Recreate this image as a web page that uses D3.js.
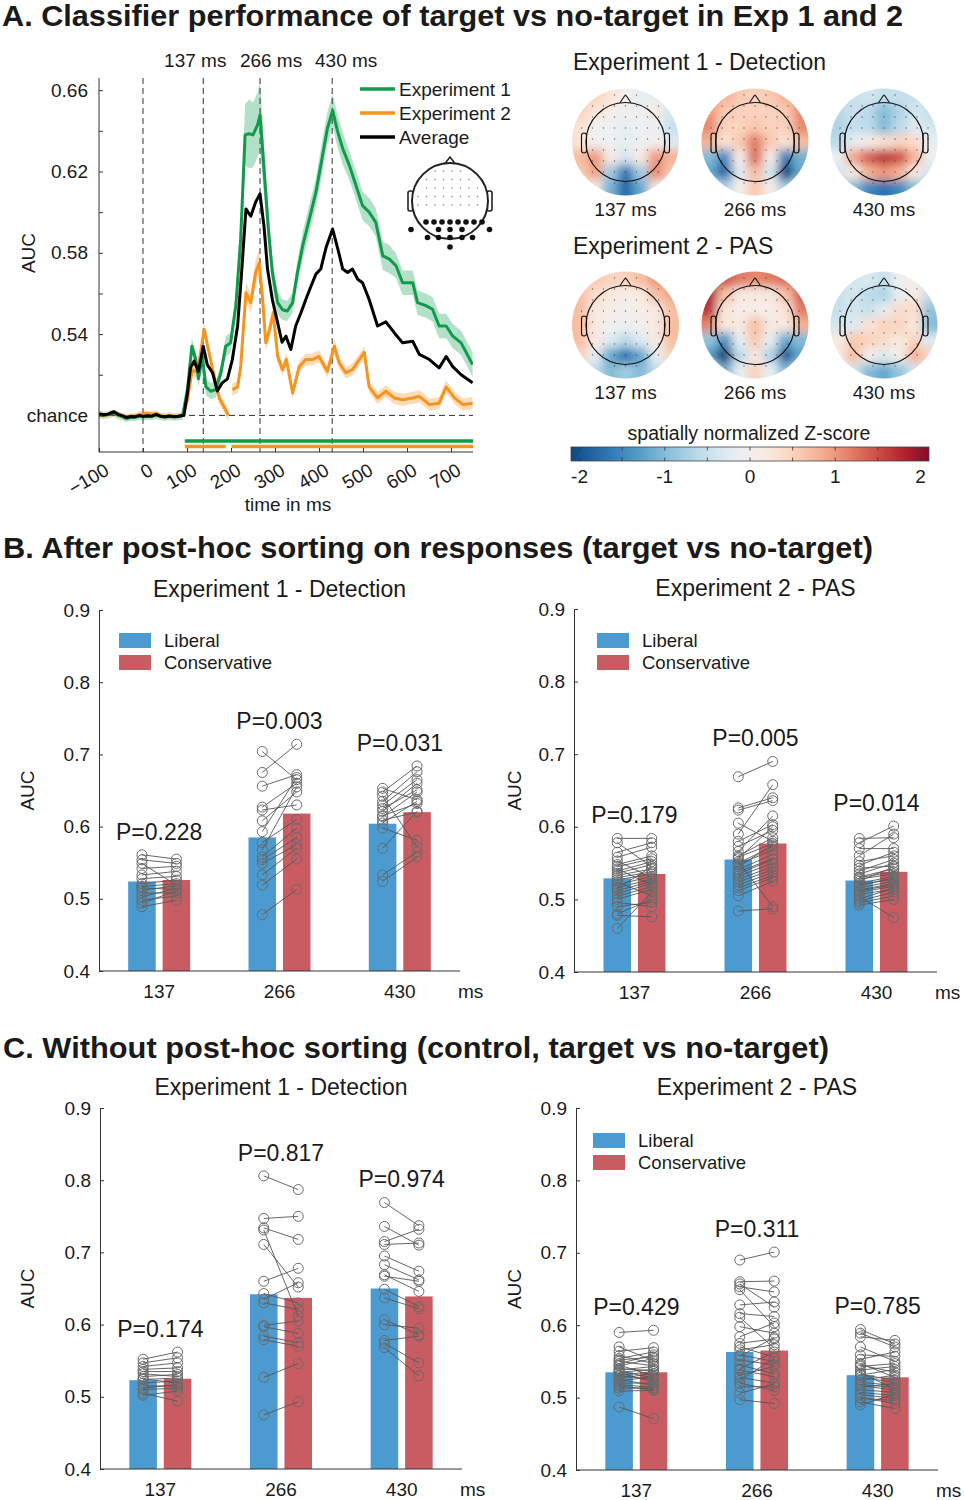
<!DOCTYPE html>
<html>
<head>
<meta charset="utf-8">
<script src="https://cdn.jsdelivr.net/npm/d3@7"></script>
<style>
  body { margin: 0; background: #fff; }
  svg text { font-family: "Liberation Sans", Arial, Helvetica, sans-serif; fill: #1a1a1a; }
</style>
</head>
<body>
<svg id="fig" width="964" height="1500"></svg>
<script>
// ---------- data: panel A time courses ----------
var baseTime = [-100,-90,-80,-66,-56,-46,-38,-28,-18,-8,0,10,20,30,40,50,60,70,80,90];

var exp1Time = baseTime.concat([101,111,120,126,135,143,154,165,177,188,199,211,222,232,241,250,260,266,275,285,
  294,306,317,328,340,351,363,378,393,404,419,431,442,454,469,484,499,514,529,545,
  560,575,590,613,624,643,658,673,689,704,723,749]);
var exp1Auc = [0.5005,0.5000,0.5003,0.5012,0.5000,0.4993,0.4985,0.4990,0.4990,0.4997,0.4993,0.4996,0.4995,0.5002,0.4994,0.4991,0.4995,0.4992,0.4994,0.4998,
  0.5127,0.534,0.5275,0.518,0.529,0.514,0.5119,0.5127,0.521,0.534,0.5357,0.554,0.5867,0.638,0.6386,0.638,0.6427,0.6477,0.6213,0.5917,
  0.5703,0.5555,0.552,0.5514,0.5555,0.5703,0.5835,0.5966,0.6098,0.623,0.6411,0.650,0.640,0.6312,0.623,0.6131,0.6032,0.600,0.595,0.5785,
  0.5769,0.5736,0.5653,0.5653,0.5555,0.554,0.5522,0.544,0.544,0.539,0.5357,0.525];
var exp1Sem = [0.0018,0.0018,0.0018,0.0018,0.0018,0.0018,0.0018,0.0018,0.0018,0.0018,0.0018,0.0018,0.0018,0.0018,0.0018,0.0018,0.0018,0.0018,0.0018,0.0018,
  0.004,0.004,0.004,0.004,0.004,0.004,0.004,0.004,0.004,0.005,0.005,0.006,0.010,0.015,0.017,0.016,0.016,0.017,0.013,0.010,
  0.007,0.006,0.005,0.005,0.005,0.006,0.007,0.007,0.007,0.008,0.008,0.008,0.008,0.008,0.007,0.007,0.007,0.007,0.007,0.007,
  0.007,0.006,0.006,0.006,0.006,0.006,0.006,0.006,0.006,0.006,0.006,0.006];

var exp2Time = baseTime.concat([101,112,124,139,150,162,173,184,194,197,203,215,222,234,245,256,264,272,279,288,
  296,306,317,326,340,355,370,385,400,419,435,446,461,476,492,503,514,533,552,571,
  590,613,628,651,673,689,708,727,749]);
var exp2Auc = [0.5003,0.4998,0.5004,0.5010,0.5002,0.4996,0.4992,0.4996,0.4997,0.5004,0.5008,0.5010,0.5006,0.5010,0.4998,0.4995,0.4999,0.4996,0.4997,0.5001,
  0.5077,0.5225,0.521,0.5423,0.531,0.519,0.5086,0.5044,0.500,null,0.5127,0.514,0.524,0.5604,0.5555,0.5703,0.575,0.557,0.5357,0.5423,
  0.5505,0.529,0.5225,0.5275,0.511,0.524,0.5275,0.5275,0.529,0.5217,0.534,0.5258,0.521,0.5225,0.5275,0.531,0.514,0.5086,0.5119,0.5086,
  0.5077,0.5086,0.5094,0.5053,0.506,0.514,0.5086,0.5053,0.506];
var exp2Sem = [0.0015,0.0015,0.0015,0.0015,0.0015,0.0015,0.0015,0.0015,0.0015,0.0015,0.0015,0.0015,0.0015,0.0015,0.0015,0.0015,0.0015,0.0015,0.0015,0.0015,
  0.003,0.003,0.003,0.003,0.003,0.003,0.003,0.003,0.003,0.003,0.003,0.003,0.004,0.005,0.005,0.006,0.007,0.005,0.004,0.004,
  0.003,0.003,0.003,0.003,0.003,0.003,0.003,0.003,0.003,0.003,0.004,0.003,0.003,0.003,0.003,0.003,0.003,0.003,0.003,0.003,
  0.003,0.003,0.003,0.003,0.003,0.003,0.003,0.003,0.003];

var avgTime = baseTime.concat([93,101,108,116,126,137,146,158,169,180,192,203,215,224,234,245,256,266,275,283,
  294,306,316,325,336,347,359,370,382,393,404,416,431,442,454,465,476,488,499,514,
  533,552,571,590,613,628,651,673,689,704,723,749]);
var avgAuc = [0.5008,0.5003,0.5006,0.5018,0.5005,0.4998,0.4990,0.4995,0.4993,0.5000,0.4995,0.4998,0.4996,0.5005,0.4996,0.4993,0.4997,0.4994,0.4996,0.5000,
  0.500,0.511,0.5234,0.5267,0.5217,0.534,0.525,0.521,0.512,0.516,0.518,0.5275,0.544,0.570,0.6016,0.598,0.605,0.609,0.593,0.572,
  0.557,0.5456,0.536,0.539,0.5324,0.544,0.5505,0.557,0.5637,0.5695,0.572,0.5826,0.5917,0.5826,0.572,0.5703,0.572,0.567,0.5653,0.557,
  0.544,0.546,0.5407,0.5357,0.5365,0.530,0.5275,0.5234,0.529,0.524,0.520,0.516];

// significant clusters (ms)
var exp1Sig = [[95, 750]];
var exp2Sig = [[95, 188], [201, 750]];
var markerTimes = [137, 266, 430];
var xTicksA = [-100, 0, 100, 200, 300, 400, 500, 600, 700];

// ---------- data: topographies (7x7 grid, rows front→back, spatially normalized z) ----------
var topoE1_137 = [
  [0.4,0.5,0.3,0.0,-0.2,-0.2,-0.2],
  [0.5,0.3,0.1,0.0,-0.1,0.2,-0.4],
  [0.3,0.0,-0.1,-0.2,-0.1,-0.1,-0.5],
  [0.3,0.0,-0.1,-0.2,-0.1,0.0,-0.3],
  [0.7,1.0,0.2,-0.4,0.2,1.0,0.8],
  [0.6,0.9,-0.8,-1.7,-0.8,1.1,0.6],
  [0.3,0.1,-1.1,-1.8,-1.2,0.2,0.2]];
var topoE1_266 = [
  [0.8,0.8,0.6,0.5,0.6,0.8,0.8],
  [1.0,0.6,0.5,0.5,0.5,0.6,1.1],
  [1.1,0.5,0.5,0.6,0.5,0.5,1.1],
  [0.8,0.3,0.6,1.2,0.6,0.3,0.7],
  [-1.0,-1.5,0.1,1.3,0.1,-1.6,-1.1],
  [-1.2,-1.8,-0.3,0.7,-0.4,-2.1,-1.2],
  [-0.3,-0.7,0.1,0.6,0.1,-0.8,-0.3]];
var topoE1_430 = [
  [-0.5,-0.5,-0.4,-0.5,-0.5,-0.5,-0.5],
  [-0.6,-0.5,-0.6,-1.0,-0.7,-0.4,-0.5],
  [-0.7,-0.5,-0.6,-1.0,-0.6,-0.3,-0.4],
  [-0.6,-0.2,0.1,0.3,0.5,0.4,-0.2],
  [-0.1,0.9,1.4,1.7,1.5,0.8,-0.1],
  [-0.4,0.2,0.8,1.0,0.8,0.2,-0.4],
  [-0.8,-1.0,-1.5,-1.7,-1.5,-1.0,-0.8]];
var topoE2_137 = [
  [0.6,0.6,0.5,0.5,0.7,1.0,0.9],
  [0.7,0.4,0.2,0.1,0.2,0.7,0.9],
  [0.7,0.2,0.1,0.0,0.1,0.2,0.7],
  [0.7,0.2,0.0,-0.1,0.0,0.2,0.7],
  [0.7,0.2,-0.3,-0.6,-0.3,0.2,0.7],
  [0.5,-0.2,-1.2,-1.7,-1.2,-0.2,0.5],
  [0.2,-0.6,-1.0,-0.8,-1.0,-0.6,0.2]];
var topoE2_266 = [
  [1.7,1.5,1.2,1.1,1.2,1.3,1.3],
  [1.9,0.7,0.2,0.2,0.2,0.7,1.4],
  [1.7,0.3,0.1,0.1,0.1,0.3,1.2],
  [1.1,0.2,0.2,0.7,0.2,0.2,0.8],
  [-0.9,-1.4,-0.2,0.6,-0.2,-1.2,-1.0],
  [-1.3,-2.2,-0.6,0.2,-0.7,-1.9,-1.2],
  [-0.4,-1.1,-0.2,0.5,-0.2,-1.0,-0.4]];
var topoE2_430 = [
  [-0.4,-0.4,-0.3,-0.5,-0.1,0.1,-0.3],
  [-0.5,-0.4,-0.6,-0.7,-0.2,0.2,-0.5],
  [-0.5,-0.4,-0.5,-0.2,0.4,0.4,-0.9],
  [-0.4,-0.3,0.3,0.5,0.5,0.2,-1.0],
  [0.2,0.6,0.5,0.4,0.2,0.5,-0.3],
  [0.2,0.7,0.1,-0.3,0.1,0.8,0.5],
  [-0.2,-0.4,-1.0,-1.2,-0.9,-0.4,-0.2]];
var colorbarTicks = [-2, -1, 0, 1, 2];

// ---------- data: bar panels ----------
var timeLabels = ["137", "266", "430"];

// B: after post-hoc sorting
var sortedExp1Lib = [
  [0.561,0.554,0.549,0.542,0.533,0.528,0.521,0.517,0.515,0.512,0.508,0.503,0.498,0.494,0.489],
  [0.704,0.675,0.656,0.627,0.623,0.608,0.593,0.578,0.568,0.558,0.554,0.549,0.533,0.519,0.478],
  [0.653,0.648,0.642,0.635,0.630,0.625,0.621,0.615,0.614,0.609,0.605,0.598,0.570,0.533,0.524]];
var sortedExp1Con = [
  [0.555,0.549,0.519,0.545,0.538,0.531,0.526,0.521,0.513,0.518,0.508,0.514,0.504,0.511,0.498],
  [0.665,0.714,0.672,0.660,0.630,0.648,0.668,0.610,0.655,0.598,0.585,0.575,0.570,0.555,0.513],
  [0.637,0.684,0.572,0.676,0.665,0.651,0.660,0.632,0.648,0.620,0.635,0.581,0.621,0.565,0.558]];
var sortedExp1LibMean = [0.524, 0.585, 0.604];
var sortedExp1ConMean = [0.526, 0.618, 0.620];
var sortedExp1P = ["P=0.228", "P=0.003", "P=0.031"];

var sortedExp2Lib = [
  [0.584,0.578,0.565,0.558,0.553,0.548,0.545,0.542,0.539,0.536,0.533,0.530,0.527,0.524,0.520,0.516,0.515,0.512,0.508,0.504,0.500,0.496,0.490,0.480,0.478,0.460],
  [0.669,0.626,0.623,0.605,0.590,0.580,0.573,0.566,0.560,0.558,0.556,0.552,0.550,0.548,0.545,0.541,0.538,0.535,0.532,0.528,0.524,0.520,0.516,0.512,0.505,0.484],
  [0.584,0.578,0.570,0.560,0.552,0.547,0.543,0.539,0.535,0.531,0.530,0.528,0.525,0.522,0.520,0.519,0.516,0.513,0.512,0.510,0.507,0.504,0.501,0.498,0.495,0.492]];
var sortedExp2Con = [
  [0.584,0.545,0.578,0.572,0.530,0.560,0.556,0.520,0.552,0.548,0.542,0.538,0.535,0.505,0.532,0.528,0.545,0.525,0.522,0.518,0.514,0.490,0.496,0.500,0.476,0.510],
  [0.690,0.640,0.636,0.580,0.658,0.603,0.595,0.615,0.585,0.577,0.600,0.490,0.573,0.568,0.575,0.562,0.556,0.555,0.550,0.545,0.541,0.537,0.533,0.530,0.525,0.487],
  [0.585,0.601,0.570,0.590,0.560,0.565,0.546,0.555,0.550,0.542,0.538,0.535,0.545,0.532,0.528,0.530,0.525,0.522,0.520,0.518,0.514,0.475,0.515,0.510,0.505,0.500]];
var sortedExp2LibMean = [0.529, 0.555, 0.526];
var sortedExp2ConMean = [0.535, 0.577, 0.538];
var sortedExp2P = ["P=0.179", "P=0.005", "P=0.014"];

// C: without post-hoc sorting
var controlExp1Lib = [
  [0.552,0.547,0.542,0.538,0.535,0.532,0.528,0.525,0.524,0.519,0.515,0.512,0.510,0.505,0.502],
  [0.806,0.747,0.734,0.731,0.711,0.660,0.643,0.635,0.630,0.599,0.597,0.584,0.579,0.527,0.475],
  [0.769,0.736,0.715,0.711,0.695,0.683,0.669,0.667,0.649,0.637,0.607,0.600,0.578,0.574,0.568]];
var controlExp1Con = [
  [0.562,0.554,0.547,0.540,0.535,0.528,0.531,0.519,0.526,0.522,0.515,0.517,0.512,0.494,0.508],
  [0.787,0.750,0.718,0.612,0.652,0.678,0.630,0.658,0.621,0.605,0.588,0.575,0.570,0.546,0.493],
  [0.737,0.710,0.732,0.713,0.674,0.662,0.646,0.660,0.625,0.622,0.586,0.595,0.584,0.547,0.529]];
var controlExp1LibMean = [0.523, 0.642, 0.650];
var controlExp1ConMean = [0.525, 0.637, 0.639];
var controlExp1P = ["P=0.174", "P=0.817", "P=0.974"];

var controlExp2Lib = [
  [0.590,0.570,0.564,0.558,0.554,0.552,0.550,0.547,0.545,0.544,0.540,0.538,0.537,0.535,0.534,0.531,0.530,0.527,0.525,0.523,0.520,0.518,0.516,0.513,0.509,0.487],
  [0.690,0.660,0.657,0.653,0.649,0.628,0.616,0.611,0.598,0.584,0.575,0.570,0.566,0.559,0.557,0.552,0.545,0.540,0.538,0.531,0.528,0.524,0.520,0.515,0.506,0.497],
  [0.594,0.589,0.584,0.570,0.559,0.553,0.547,0.545,0.543,0.538,0.534,0.532,0.531,0.528,0.524,0.521,0.518,0.517,0.514,0.511,0.507,0.504,0.500,0.499,0.494,0.490]];
var controlExp2Con = [
  [0.593,0.551,0.569,0.547,0.563,0.556,0.544,0.559,0.530,0.554,0.537,0.543,0.527,0.539,0.522,0.536,0.525,0.533,0.517,0.529,0.520,0.514,0.511,0.513,0.510,0.471],
  [0.701,0.661,0.625,0.646,0.598,0.632,0.612,0.568,0.589,0.603,0.581,0.556,0.573,0.550,0.583,0.545,0.533,0.563,0.529,0.543,0.520,0.554,0.510,0.515,0.519,0.492],
  [0.574,0.570,0.579,0.550,0.557,0.563,0.528,0.535,0.547,0.543,0.512,0.524,0.539,0.521,0.531,0.517,0.514,0.510,0.520,0.507,0.503,0.499,0.492,0.496,0.485,0.505]];
var controlExp2LibMean = [0.535, 0.563, 0.531];
var controlExp2ConMean = [0.535, 0.565, 0.528];
var controlExp2P = ["P=0.429", "P=0.311", "P=0.785"];

var yTicksBar = [0.4, 0.5, 0.6, 0.7, 0.8, 0.9];

// ---------- colours ----------
var green = "#129a4c", greenBand = "#a6dcbd";
var orange = "#f7941d", orangeBand = "#fbd5ab";
var libColor = "#4b9bd1", conColor = "#c95c62";

var svg = d3.select("#fig");
var defs = svg.append("defs");
defs.append("filter").attr("id", "topoBlur")
  .append("feGaussianBlur").attr("stdDeviation", 5);

// ---------- section headers ----------
svg.append("text").attr("x", 2).attr("y", 26).attr("font-size", 29).attr("font-weight", "bold")
  .attr("textLength", 901).attr("lengthAdjust", "spacingAndGlyphs")
  .text("A. Classifier performance of target vs no-target in Exp 1 and 2");
svg.append("text").attr("x", 3).attr("y", 558).attr("font-size", 29).attr("font-weight", "bold")
  .attr("textLength", 870).attr("lengthAdjust", "spacingAndGlyphs")
  .text("B. After post-hoc sorting on responses (target vs no-target)");
svg.append("text").attr("x", 3).attr("y", 1058).attr("font-size", 29).attr("font-weight", "bold")
  .attr("textLength", 826).attr("lengthAdjust", "spacingAndGlyphs")
  .text("C. Without post-hoc sorting (control, target vs no-target)");

// ---------- panel A: time course ----------
var ax = d3.scaleLinear().domain([-100, 750]).range([99, 473]);
var ay = d3.scaleLinear().domain([0.482, 0.666]).range([452, 78]);

function series(time, auc, sem) {
  return time.map(function (t, i) { return { t: t, v: auc[i], s: sem ? sem[i] : 0 }; });
}
var exp1Data = series(exp1Time, exp1Auc, exp1Sem);
var exp2Data = series(exp2Time, exp2Auc, exp2Sem);
var avgData = series(avgTime, avgAuc, null);

defs.append("clipPath").attr("id", "clipA").append("rect")
  .attr("x", 99).attr("y", 78).attr("width", 374).attr("height", 374);

var gA = svg.append("g");
var plotA = gA.append("g").attr("clip-path", "url(#clipA)");

var band = d3.area().defined(function (d) { return d.v != null; })
  .x(function (d) { return ax(d.t); })
  .y0(function (d) { return ay(d.v - d.s); })
  .y1(function (d) { return ay(d.v + d.s); });
var line = d3.line().defined(function (d) { return d.v != null; })
  .x(function (d) { return ax(d.t); })
  .y(function (d) { return ay(d.v); });

plotA.append("path").datum(exp1Data).attr("d", band).attr("fill", greenBand).attr("opacity", 0.85);
plotA.append("path").datum(exp2Data).attr("d", band).attr("fill", orangeBand).attr("opacity", 0.85);

// dashed markers
plotA.selectAll(".vline").data([0].concat(markerTimes)).join("line")
  .attr("x1", function (d) { return ax(d); }).attr("x2", function (d) { return ax(d); })
  .attr("y1", 78).attr("y2", 452)
  .attr("stroke", "#333").attr("stroke-width", 1).attr("stroke-dasharray", "6,4");
plotA.append("line").attr("x1", 99).attr("x2", 473).attr("y1", ay(0.5)).attr("y2", ay(0.5))
  .attr("stroke", "#333").attr("stroke-width", 1).attr("stroke-dasharray", "6,4");

plotA.append("path").datum(exp2Data).attr("d", line).attr("fill", "none")
  .attr("stroke", orange).attr("stroke-width", 3).attr("stroke-linejoin", "round");
plotA.append("path").datum(exp1Data).attr("d", line).attr("fill", "none")
  .attr("stroke", green).attr("stroke-width", 3).attr("stroke-linejoin", "round");
plotA.append("path").datum(avgData).attr("d", line).attr("fill", "none")
  .attr("stroke", "#000").attr("stroke-width", 3).attr("stroke-linejoin", "round");

// significance bars
gA.selectAll(".sig1").data(exp1Sig).join("line")
  .attr("x1", function (d) { return ax(d[0]); }).attr("x2", function (d) { return ax(d[1]); })
  .attr("y1", 441).attr("y2", 441).attr("stroke", green).attr("stroke-width", 3.5);
gA.selectAll(".sig2").data(exp2Sig).join("line")
  .attr("x1", function (d) { return ax(d[0]); }).attr("x2", function (d) { return ax(d[1]); })
  .attr("y1", 446.5).attr("y2", 446.5).attr("stroke", orange).attr("stroke-width", 3.5);

// axes
var yAxisA = gA.append("g").attr("transform", "translate(99,0)")
  .call(d3.axisLeft(ay).tickValues([0.5, 0.52, 0.54, 0.56, 0.58, 0.60, 0.62, 0.64, 0.66])
    .tickFormat(function (v) {
      if (Math.abs(v - 0.5) < 1e-6) return "chance";
      return (Math.round(v * 100) % 4 === 2) ? d3.format(".2f")(v) : "";
    })
    .tickSize(-4).tickSizeOuter(0).tickPadding(11));
yAxisA.select(".domain").attr("d", "M0,78V452").attr("stroke", "#333");
yAxisA.selectAll("text").attr("font-size", 19);
yAxisA.selectAll(".tick line").attr("stroke", "#333");

var xAxisA = gA.append("g").attr("transform", "translate(0,452)")
  .call(d3.axisBottom(ax).tickValues(xTicksA).tickSize(-4).tickSizeOuter(0));
xAxisA.select(".domain").attr("d", "M99,0H473").attr("stroke", "#333");
xAxisA.selectAll(".tick line").attr("stroke", "#333");
xAxisA.selectAll("text").attr("font-size", 19).attr("text-anchor", "end")
  .attr("x", 0).attr("y", 0).attr("dy", 0)
  .attr("transform", "translate(11,22) rotate(-30)");

gA.append("text").attr("x", 288).attr("y", 511).attr("text-anchor", "middle").attr("font-size", 19).text("time in ms");
gA.append("text").attr("transform", "translate(35,253) rotate(-90)").attr("text-anchor", "middle")
  .attr("font-size", 19).text("AUC");

var markerOffset = [-8, 11, 14];
gA.selectAll(".mlab").data(markerTimes).join("text")
  .attr("x", function (d, i) { return ax(d) + markerOffset[i]; }).attr("y", 67)
  .attr("text-anchor", "middle").attr("font-size", 19)
  .text(function (d) { return d + " ms"; });

// legend A
var legA = [["Experiment 1", green], ["Experiment 2", orange], ["Average", "#000"]];
legA.forEach(function (d, i) {
  var yy = 89 + i * 24;
  gA.append("line").attr("x1", 360).attr("x2", 395).attr("y1", yy).attr("y2", yy)
    .attr("stroke", d[1]).attr("stroke-width", 3.5);
  gA.append("text").attr("x", 399).attr("y", yy + 6.5).attr("font-size", 19).text(d[0]);
});

// inset electrode map
(function () {
  var cx = 450, cy = 201, r = 38;
  var g = gA.append("g");
  g.append("path").attr("d", "M" + (cx - 5) + "," + (cy - r + 0.5) + " L" + cx + "," + (cy - r - 6) + " L" + (cx + 5) + "," + (cy - r + 0.5))
    .attr("fill", "none").attr("stroke", "#222").attr("stroke-width", 1.6);
  [-1, 1].forEach(function (s) {
    g.append("rect").attr("x", s < 0 ? cx - r - 4 : cx + r - 1).attr("y", cy - 10).attr("width", 5).attr("height", 20)
      .attr("rx", 2).attr("fill", "none").attr("stroke", "#222").attr("stroke-width", 1.6);
  });
  g.append("circle").attr("cx", cx).attr("cy", cy).attr("r", r).attr("fill", "#fff")
    .attr("stroke", "#222").attr("stroke-width", 2);
  var small = [];
  for (var yy = -30; yy <= 12; yy += 8.5) for (var xx = -32; xx <= 32; xx += 8.5) {
    if (Math.hypot(xx, yy) < 34) small.push([xx, yy]);
  }
  g.selectAll(".sd").data(small).join("circle").attr("cx", function (d) { return cx + d[0]; })
    .attr("cy", function (d) { return cy + d[1]; }).attr("r", 0.8).attr("fill", "#888");
  var big = [];
  d3.range(-24, 33, 8).forEach(function (xx) { big.push([xx, 21]); });
  [-39, -11.5, 0, 12, 39.5].forEach(function (xx) { big.push([xx, 28.5]); });
  [-22.5, -11.5, 0, 12, 22.5].forEach(function (xx) { big.push([xx, 36.5]); });
  big.push([0, 46]);
  g.selectAll(".bd").data(big).join("circle").attr("cx", function (d) { return cx + d[0]; })
    .attr("cy", function (d) { return cy + d[1]; }).attr("r", 2.8).attr("fill", "#111");
})();

// ---------- panel A: topographies ----------
var zColor = d3.scaleDiverging(function (t) { return d3.interpolateRdBu(1 - t); })
  .domain([-2.3, 0, 2.3]).clamp(true);

var topoCols = [625.5, 755, 884];
var topoRows = [142, 325];
var topoMaps = [[topoE1_137, topoE1_266, topoE1_430], [topoE2_137, topoE2_266, topoE2_430]];
var topoId = 0;

function drawTopo(cx, cy, grid) {
  var R = 53.5, n = grid.length, cell = 2 * R / n;
  var id = "topoClip" + (topoId++);
  defs.append("clipPath").attr("id", id).append("circle").attr("cx", cx).attr("cy", cy).attr("r", R);
  var g = svg.append("g");
  var field = g.append("g").attr("clip-path", "url(#" + id + ")")
    .append("g").attr("filter", "url(#topoBlur)");
  var cells = [];
  for (var i = -3; i < n + 3; i++) for (var j = -3; j < n + 3; j++) {
    var ii = Math.max(0, Math.min(n - 1, i)), jj = Math.max(0, Math.min(n - 1, j));
    cells.push({ i: i, j: j, v: grid[ii][jj] });
  }
  field.selectAll("rect").data(cells).join("rect")
    .attr("x", function (d) { return cx - R + d.j * cell; })
    .attr("y", function (d) { return cy - R + d.i * cell; })
    .attr("width", cell + 0.6).attr("height", cell + 0.6)
    .attr("fill", function (d) { return zColor(d.v); });
  // electrode dots
  var dots = [];
  for (var yy = -44; yy <= 50; yy += 11) for (var xx = -44; xx <= 44; xx += 11) {
    if (Math.hypot(xx, yy) < 48) dots.push([xx, yy]);
  }
  g.selectAll(".ed").data(dots).join("circle")
    .attr("cx", function (d) { return cx + d[0]; }).attr("cy", function (d) { return cy + d[1] - 3; })
    .attr("r", 0.7).attr("fill", "#333").attr("opacity", 0.7);
  var hr = 39.5;
  g.append("circle").attr("cx", cx).attr("cy", cy).attr("r", hr).attr("fill", "none")
    .attr("stroke", "#111").attr("stroke-width", 1.2);
  g.append("path").attr("d", "M" + (cx - 5.5) + "," + (cy - hr + 0.3) + " L" + (cx - 1) + "," + (cy - hr - 6.5)
      + " Q" + cx + "," + (cy - hr - 7.5) + " " + (cx + 1) + "," + (cy - hr - 6.5) + " L" + (cx + 5.5) + "," + (cy - hr + 0.3))
    .attr("fill", "none").attr("stroke", "#111").attr("stroke-width", 1.1);
  [-1, 1].forEach(function (s) {
    g.append("rect").attr("x", s < 0 ? cx - hr - 4.5 : cx + hr - 0.5).attr("y", cy - 9).attr("width", 5).attr("height", 20)
      .attr("rx", 2.5).attr("fill", "none").attr("stroke", "#111").attr("stroke-width", 1.1);
  });
}

topoMaps.forEach(function (row, r) {
  row.forEach(function (grid, c) { drawTopo(topoCols[c], topoRows[r], grid); });
  svg.selectAll(".tl" + r).data(markerTimes).join("text")
    .attr("x", function (d, c) { return topoCols[c]; }).attr("y", topoRows[r] + 74)
    .attr("text-anchor", "middle").attr("font-size", 19)
    .text(function (d) { return d + " ms"; });
});
svg.append("text").attr("x", 573).attr("y", 70).attr("font-size", 23).text("Experiment 1 - Detection");
svg.append("text").attr("x", 573).attr("y", 254).attr("font-size", 23).text("Experiment 2 - PAS");

// colour bar
(function () {
  var cz = d3.scaleLinear().domain([-2.1, 2.1]).range([571, 929]);
  var grad = defs.append("linearGradient").attr("id", "zgrad");
  d3.range(0, 1.0001, 0.05).forEach(function (t) {
    grad.append("stop").attr("offset", t).attr("stop-color", zColor(-2.1 + 4.2 * t));
  });
  svg.append("rect").attr("x", 571).attr("y", 447).attr("width", 358).attr("height", 14)
    .attr("fill", "url(#zgrad)").attr("stroke", "#444").attr("stroke-width", 0.8);
  var minor = d3.range(-2, 2.01, 0.5);
  svg.selectAll(".cbt").data(minor).join("line")
    .attr("x1", function (d) { return cz(d); }).attr("x2", function (d) { return cz(d); })
    .attr("y1", 447).attr("y2", 450.5).attr("stroke", "#333").attr("stroke-width", 0.8);
  svg.selectAll(".cbb").data(minor).join("line")
    .attr("x1", function (d) { return cz(d); }).attr("x2", function (d) { return cz(d); })
    .attr("y1", 461).attr("y2", 457.5).attr("stroke", "#333").attr("stroke-width", 0.8);
  svg.selectAll(".cbl").data(colorbarTicks).join("text")
    .attr("x", function (d) { return cz(d); }).attr("y", 483).attr("text-anchor", "middle")
    .attr("font-size", 19).text(function (d) { return d; });
  svg.append("text").attr("x", 749).attr("y", 440).attr("text-anchor", "middle").attr("font-size", 19.5)
    .text("spatially normalized Z-score");
})();

// ---------- bar panels ----------
function barPanel(o) {
  var g = svg.append("g");
  var y = d3.scaleLinear().domain([0.4, 0.9]).range([o.y0, o.y1]);
  var x = d3.scaleBand().domain(timeLabels).range([o.x0, o.x1]);
  var xs = d3.scaleBand().domain(["lib", "con"]).range([-31, 31]).paddingInner(0.2);
  var cx = function (i, k) { return x(timeLabels[i]) + x.bandwidth() / 2 + xs(k) + xs.bandwidth() / 2; };

  var bars = [];
  timeLabels.forEach(function (t, i) {
    bars.push({ i: i, k: "lib", v: o.libMean[i] });
    bars.push({ i: i, k: "con", v: o.conMean[i] });
  });
  g.selectAll(".bar").data(bars).join("rect")
    .attr("x", function (d) { return cx(d.i, d.k) - xs.bandwidth() / 2; })
    .attr("y", function (d) { return y(d.v); })
    .attr("width", xs.bandwidth())
    .attr("height", function (d) { return y(0.4) - y(d.v); })
    .attr("fill", function (d) { return d.k === "lib" ? libColor : conColor; });

  timeLabels.forEach(function (t, i) {
    var pairs = o.lib[i].map(function (v, s) { return [v, o.con[i][s]]; });
    g.selectAll(".pl" + i).data(pairs).join("line")
      .attr("x1", cx(i, "lib")).attr("x2", cx(i, "con"))
      .attr("y1", function (d) { return y(d[0]); }).attr("y2", function (d) { return y(d[1]); })
      .attr("stroke", "#555").attr("stroke-width", 0.9);
    g.selectAll(".cl" + i).data(o.lib[i]).join("circle")
      .attr("cx", cx(i, "lib")).attr("cy", function (d) { return y(d); }).attr("r", 5)
      .attr("fill", "none").attr("stroke", "#6a6a6a").attr("stroke-width", 1);
    g.selectAll(".cc" + i).data(o.con[i]).join("circle")
      .attr("cx", cx(i, "con")).attr("cy", function (d) { return y(d); }).attr("r", 5)
      .attr("fill", "none").attr("stroke", "#6a6a6a").attr("stroke-width", 1);
    var top = d3.max(o.lib[i].concat(o.con[i]));
    g.append("text").attr("x", x(t) + x.bandwidth() / 2).attr("y", y(top + 0.021))
      .attr("text-anchor", "middle").attr("font-size", 23).text(o.p[i]);
    g.append("text").attr("x", x(t) + x.bandwidth() / 2).attr("y", o.y0 + 27)
      .attr("text-anchor", "middle").attr("font-size", 19).text(t);
  });

  var yAxis = g.append("g").attr("transform", "translate(" + o.x0 + ",0)")
    .call(d3.axisLeft(y).tickValues(yTicksBar).tickFormat(d3.format(".1f"))
      .tickSize(-4).tickSizeOuter(0).tickPadding(9));
  yAxis.select(".domain").attr("stroke", "#333");
  yAxis.selectAll(".tick line").attr("stroke", "#333");
  yAxis.selectAll("text").attr("font-size", 19);
  g.append("line").attr("x1", o.x0).attr("x2", o.x1).attr("y1", o.y0).attr("y2", o.y0)
    .attr("stroke", "#333").attr("stroke-width", 1);
  g.append("text").attr("x", o.x1 - 2).attr("y", o.y0 + 27).attr("font-size", 19).text("ms");
  g.append("text").attr("transform", "translate(" + o.labelX + "," + ((o.y0 + o.y1) / 2) + ") rotate(-90)")
    .attr("text-anchor", "middle").attr("font-size", 19).text("AUC");
  g.append("text").attr("x", (o.x0 + o.x1) / 2).attr("y", o.y1 - 13).attr("text-anchor", "middle")
    .attr("font-size", 23).text(o.title);

  if (o.legend) {
    [["Liberal", libColor], ["Conservative", conColor]].forEach(function (d, i) {
      g.append("rect").attr("x", o.x0 + o.legend[0]).attr("y", o.y1 + o.legend[1] + i * 22)
        .attr("width", 32).attr("height", 15).attr("fill", d[1]);
      g.append("text").attr("x", o.x0 + o.legend[0] + 45).attr("y", o.y1 + o.legend[1] + 14 + i * 22)
        .attr("font-size", 18.5).text(d[0]);
    });
  }
}

barPanel({ x0: 99, x1: 460, y0: 971, y1: 610, labelX: 34, title: "Experiment 1 - Detection",
  lib: sortedExp1Lib, con: sortedExp1Con, libMean: sortedExp1LibMean, conMean: sortedExp1ConMean,
  p: sortedExp1P, legend: [20, 23] });
barPanel({ x0: 574, x1: 937, y0: 972, y1: 609, labelX: 521, title: "Experiment 2 - PAS",
  lib: sortedExp2Lib, con: sortedExp2Con, libMean: sortedExp2LibMean, conMean: sortedExp2ConMean,
  p: sortedExp2P, legend: [23, 24] });
barPanel({ x0: 100, x1: 462, y0: 1469, y1: 1108, labelX: 34, title: "Experiment 1 - Detection",
  lib: controlExp1Lib, con: controlExp1Con, libMean: controlExp1LibMean, conMean: controlExp1ConMean,
  p: controlExp1P, legend: null });
barPanel({ x0: 576, x1: 938, y0: 1470, y1: 1108, labelX: 521, title: "Experiment 2 - PAS",
  lib: controlExp2Lib, con: controlExp2Con, libMean: controlExp2LibMean, conMean: controlExp2ConMean,
  p: controlExp2P, legend: [17, 25] });
</script>
</body>
</html>
